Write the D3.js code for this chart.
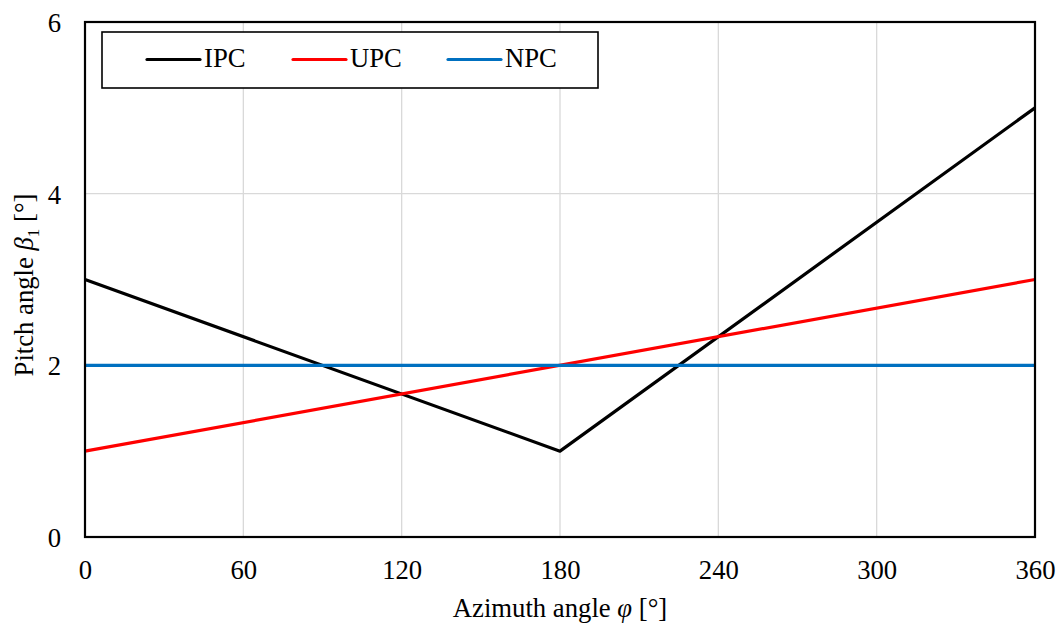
<!DOCTYPE html>
<html>
<head>
<meta charset="utf-8">
<script src="https://cdn.jsdelivr.net/npm/d3@7"></script>
<style>
  html, body { margin: 0; padding: 0; background: #fff; }
  svg text { font-family: "Liberation Serif", "Times New Roman", serif; fill: #000; }
</style>
</head>
<body>
<svg id="chart" width="1064" height="630"></svg>
<script>
// Pitch angle vs. azimuth angle for three pitch control strategies
const xTicks = [0, 60, 120, 180, 240, 300, 360];
const yTicks = [0, 2, 4, 6];

const ipcAzimuth = [0, 180, 360];
const ipcPitch   = [3, 1, 5];
const upcAzimuth = [0, 360];
const upcPitch   = [1, 3];
const npcAzimuth = [0, 360];
const npcPitch   = [2, 2];

const seriesNames  = ["IPC", "UPC", "NPC"];
const seriesColors = ["#000000", "#ff0000", "#0070c0"];

const series = [
  { name: seriesNames[0], color: seriesColors[0], pts: ipcAzimuth.map((a, i) => [a, ipcPitch[i]]) },
  { name: seriesNames[1], color: seriesColors[1], pts: upcAzimuth.map((a, i) => [a, upcPitch[i]]) },
  { name: seriesNames[2], color: seriesColors[2], pts: npcAzimuth.map((a, i) => [a, npcPitch[i]]) }
];

const FONT = "26.7px";
const svg = d3.select("#chart");
const plotL = 85, plotR = 1035, plotT = 22, plotB = 537;

const x = d3.scaleLinear().domain([0, 360]).range([plotL, plotR]);
const y = d3.scaleLinear().domain([0, 6]).range([plotB, plotT]);

// gridlines
const grid = svg.append("g");
grid.selectAll("line.vx").data(xTicks.slice(1, -1)).enter().append("line")
  .attr("x1", d => x(d)).attr("x2", d => x(d))
  .attr("y1", plotT).attr("y2", plotB)
  .attr("stroke", "#d9d9d9").attr("stroke-width", 1.3);
grid.selectAll("line.hy").data(yTicks.slice(1, -1)).enter().append("line")
  .attr("x1", plotL).attr("x2", plotR)
  .attr("y1", d => y(d)).attr("y2", d => y(d))
  .attr("stroke", "#d9d9d9").attr("stroke-width", 1.3);

// axes (labels only, no tick marks)
const xAxis = svg.append("g").attr("transform", `translate(0,${plotB})`)
  .call(d3.axisBottom(x).tickValues(xTicks).tickFormat(d3.format("d")).tickSize(0).tickPadding(23));
const yAxis = svg.append("g").attr("transform", `translate(${plotL},0)`)
  .call(d3.axisLeft(y).tickValues(yTicks).tickFormat(d3.format("d")).tickSize(0).tickPadding(24));
[xAxis, yAxis].forEach(g => {
  g.attr("font-family", null).attr("font-size", null);
  g.select(".domain").remove();
  g.selectAll("text").style("font-family", "'Liberation Serif', serif").style("font-size", FONT).attr("fill", "#000");
});
yAxis.selectAll("text").attr("dy", "0.35em");

// series lines
const line = d3.line().x(d => x(d[0])).y(d => y(d[1]));
svg.append("g").selectAll("path").data(series).enter().append("path")
  .attr("d", d => line(d.pts))
  .attr("fill", "none")
  .attr("stroke", d => d.color)
  .attr("stroke-width", 3.2)
  .attr("stroke-linejoin", "round");

// plot frame
svg.append("rect")
  .attr("x", plotL).attr("y", plotT)
  .attr("width", plotR - plotL).attr("height", plotB - plotT)
  .attr("fill", "none").attr("stroke", "#000").attr("stroke-width", 2.2);

// legend
const legend = svg.append("g");
legend.append("rect")
  .attr("x", 102).attr("y", 32).attr("width", 496).attr("height", 56)
  .attr("fill", "#fff").attr("stroke", "#000").attr("stroke-width", 1.6);
const legendX = [147, 293, 448];
series.forEach((s, i) => {
  legend.append("line")
    .attr("x1", legendX[i]).attr("x2", legendX[i] + 53)
    .attr("y1", 59.5).attr("y2", 59.5)
    .attr("stroke", s.color).attr("stroke-width", 3.2).attr("stroke-linecap", "round");
  legend.append("text")
    .attr("x", legendX[i] + 57).attr("y", 67)
    .style("font-size", FONT).text(s.name);
});

// axis titles
svg.append("text")
  .attr("x", (plotL + plotR) / 2).attr("y", 617)
  .attr("text-anchor", "middle").style("font-size", FONT)
  .html('Azimuth angle <tspan font-style="italic">φ</tspan> [°]');

const yTitle = svg.append("text")
  .attr("transform", `translate(33,285) rotate(-90)`)
  .attr("text-anchor", "middle").style("font-size", FONT);
yTitle.append("tspan").text("Pitch angle ");
yTitle.append("tspan").attr("font-style", "italic").text("β");
yTitle.append("tspan").attr("dy", 6).style("font-size", "17px").text("1");
yTitle.append("tspan").attr("dy", -6).text(" [°]");
</script>
</body>
</html>
